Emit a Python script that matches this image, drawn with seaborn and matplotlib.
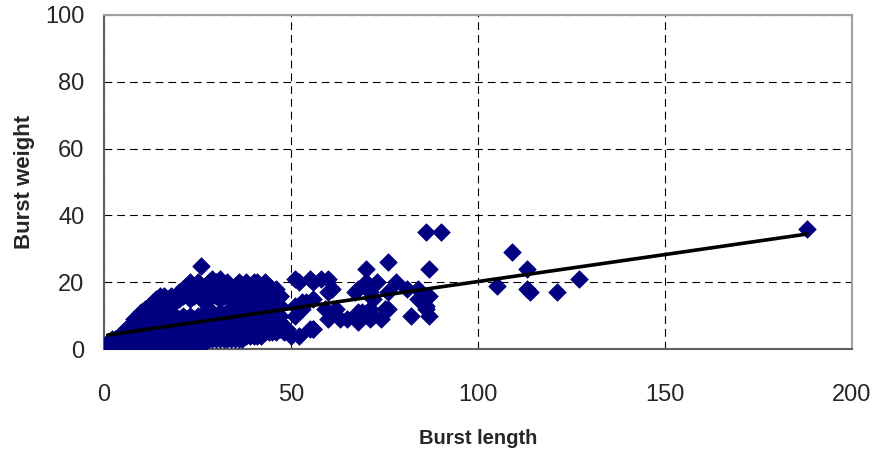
import pandas as pd
import matplotlib
matplotlib.use('Agg')
import matplotlib.pyplot as plt
import seaborn as sns

# packed cluster: burst lengths 1..47, each with the burst weights seen there
cluster_lengths = [1, 2, 3, 4, 5, 6, 7, 8, 9, 10, 11, 12, 13, 14, 15, 16,
                   17, 18, 19, 20, 21, 22, 23, 24, 25, 26, 27, 28, 29, 30,
                   31, 32, 33, 34, 35, 36, 37, 38, 39, 40, 41, 42, 43, 44,
                   45, 46, 47]
cluster_weights = [
    [1, 2],
    [1, 2, 3],
    [1, 2, 3],
    [1, 2, 3, 4],
    [1, 2, 3, 4, 5],
    [1, 2, 3, 5, 6],
    [1, 2, 3, 4, 6, 7],
    [1, 2, 3, 4, 5, 8, 9],
    [1, 2, 3, 4, 6, 9, 10],
    [1, 2, 3, 5, 7, 10, 11],
    [1, 2, 3, 4, 6, 8, 11, 12],
    [1, 2, 3, 5, 7, 9, 13],
    [1, 2, 3, 4, 6, 8, 12, 14],
    [1, 2, 3, 5, 7, 10, 15],
    [1, 2, 3, 4, 6, 9, 13, 16],
    [1, 2, 3, 5, 7, 10, 14, 16],
    [1, 2, 3, 4, 6, 8, 11, 15],
    [1, 2, 3, 4, 5, 7, 9, 16],
    [2, 3, 4, 5, 6, 8, 10, 14],
    [2, 3, 4, 6, 7, 9, 15, 17],
    [2, 3, 4, 5, 7, 8, 10, 16, 18],
    [2, 3, 4, 6, 8, 9, 17, 19],
    [2, 3, 4, 5, 7, 8, 10, 15, 18, 20],
    [2, 3, 4, 5, 6, 8, 9, 16, 19],
    [2, 3, 4, 5, 7, 9, 10, 17, 18, 20],
    [2, 3, 4, 6, 7, 8, 10, 15, 18, 25],
    [2, 3, 4, 5, 7, 9, 11, 16, 17, 19],
    [3, 4, 5, 6, 8, 9, 10, 15, 18, 20],
    [3, 4, 5, 6, 7, 9, 11, 17, 19, 21],
    [3, 4, 5, 7, 8, 10, 16, 18, 20],
    [3, 4, 5, 6, 8, 9, 11, 15, 19, 21],
    [3, 4, 5, 7, 8, 10, 16, 17, 19],
    [3, 4, 5, 6, 7, 9, 11, 18, 20],
    [3, 4, 5, 6, 8, 9, 10, 15, 17],
    [3, 4, 5, 7, 8, 10, 12, 16, 18, 19],
    [3, 4, 5, 6, 7, 9, 11, 14, 17, 20],
    [3, 4, 5, 7, 8, 10, 13, 15, 19],
    [4, 5, 6, 7, 9, 11, 16, 18, 20],
    [4, 5, 6, 8, 10, 12, 14, 17],
    [4, 5, 7, 8, 9, 11, 15, 19, 20],
    [4, 5, 6, 8, 10, 13, 16, 18, 20],
    [4, 6, 7, 9, 11, 14, 17, 19],
    [5, 6, 8, 10, 12, 15, 18, 20],
    [5, 7, 9, 11, 13, 16, 19],
    [5, 6, 8, 10, 12, 14, 17],
    [5, 7, 9, 11, 15, 18],
    [6, 7, 8, 10, 13, 16],
]

# scattered bursts beyond the cluster
spread_length = [47, 48, 49, 50, 51, 51, 51, 52, 52, 53, 53, 54, 55, 55,
                 56, 56, 56, 56, 58, 59, 60, 60, 60, 61, 62, 63, 65, 67,
                 68, 68, 68, 69, 70, 70, 71, 71, 71, 72, 72, 73, 74, 75,
                 76, 76, 76, 78, 81, 82, 84, 84, 85, 86, 86, 87, 87, 87,
                 86, 90, 105, 109, 113, 113, 114, 121, 127, 188]
spread_weight = [16, 5, 6, 4, 10, 13, 21, 4, 20, 12, 14, 14, 6, 21,
                 6, 15, 20, 6, 21, 12, 9, 17, 21, 18, 12, 9, 9, 17,
                 8, 11, 18, 11, 20, 24, 9, 12, 17, 10, 15, 20, 9, 12,
                 12, 17, 26, 20, 18, 10, 15, 18, 15, 13, 35, 10, 24, 16,
                 12, 35, 19, 29, 24, 18, 17, 17, 21, 36]

lengths = []
weights = []
for length, ws in zip(cluster_lengths, cluster_weights):
    lengths += [length] * len(ws)
    weights += ws
lengths += spread_length
weights += spread_weight

df = pd.DataFrame({'Burst length': lengths, 'Burst weight': weights})

sns.set_style('white')
plt.rcParams['font.family'] = ['Liberation Sans', 'DejaVu Sans']

fig, ax = plt.subplots(figsize=(8.78, 4.51), dpi=100)
fig.subplots_adjust(left=0.1185, right=0.9704, top=0.967, bottom=0.226)

sns.scatterplot(data=df, x='Burst length', y='Burst weight', marker='D',
                s=80, color='#000080', edgecolor='#000080', linewidth=0.5,
                ax=ax, zorder=3)
sns.regplot(data=df, x='Burst length', y='Burst weight', scatter=False,
            ci=None, truncate=True, color='black',
            line_kws={'linewidth': 2.6, 'zorder': 4}, ax=ax)

ax.set_xlim(0, 200)
ax.set_ylim(0, 100)
ax.set_xticks([0, 50, 100, 150, 200])
ax.set_yticks([0, 20, 40, 60, 80, 100])
ax.grid(True, color='black', linestyle=(0, (7, 4.5)), linewidth=0.8)
ax.set_axisbelow(True)

for side in ['top', 'right']:
    ax.spines[side].set_color('#a0a0a0')
    ax.spines[side].set_linewidth(1.5)
for side in ['left', 'bottom']:
    ax.spines[side].set_color('#606060')
    ax.spines[side].set_linewidth(1.5)

ax.tick_params(axis='both', direction='out', length=7, width=1,
               color='black', labelsize=17)
ax.tick_params(axis='x', pad=18)
ax.tick_params(axis='y', pad=7)

ax.set_xlabel('Burst length', fontsize=14.5, fontweight='bold', labelpad=17)
ax.set_ylabel('Burst weight', fontsize=16, fontweight='bold', labelpad=7.5)

plt.savefig('out.png', dpi=100)
